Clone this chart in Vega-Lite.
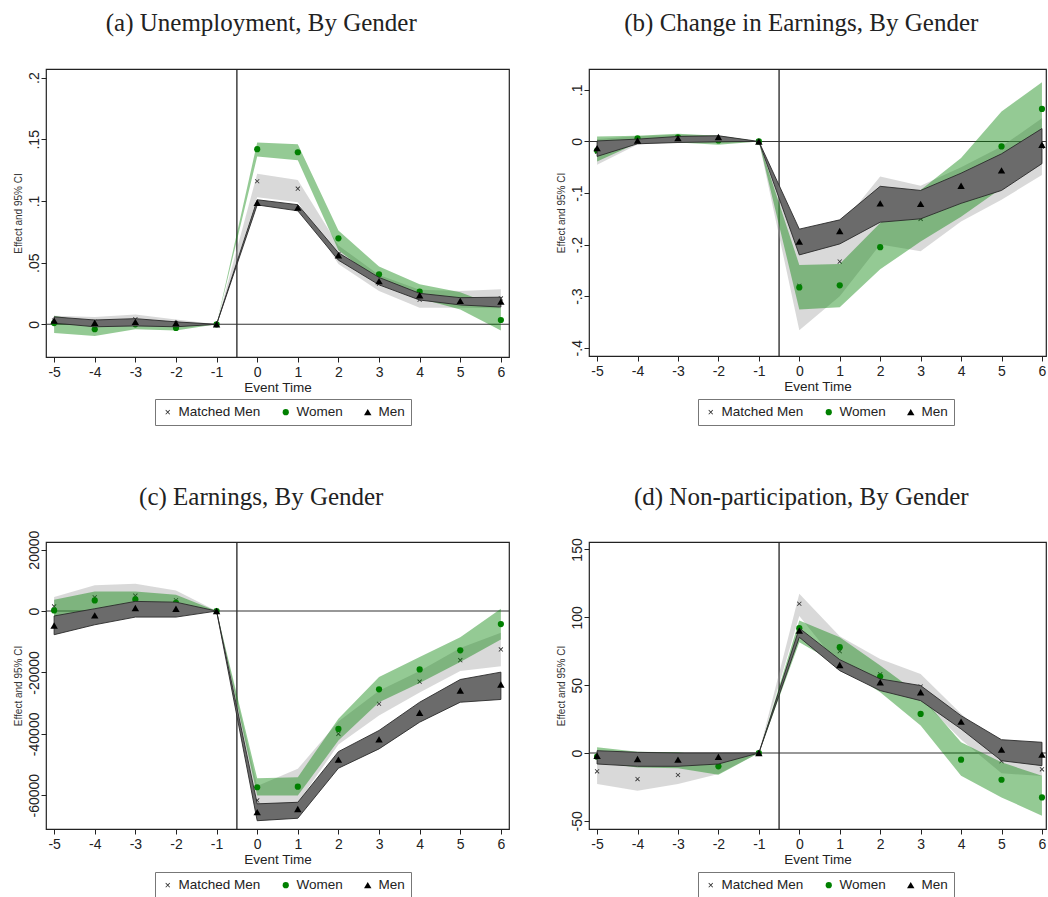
{
  "$schema": "https://vega.github.io/schema/vega-lite/v6.json",
  "padding": {"left": 12, "top": 10, "right": 0, "bottom": 0},
  "background": "white",
  "datasets": {
    "d": [
      {"p":"a","s":"Matched Men","t":-5,"e":0.003,"lo":0.0,"hi":0.007},
      {"p":"a","s":"Matched Men","t":-4,"e":0.002,"lo":-0.001,"hi":0.006},
      {"p":"a","s":"Matched Men","t":-3,"e":0.004,"lo":0.0,"hi":0.008},
      {"p":"a","s":"Matched Men","t":-2,"e":0.001,"lo":-0.002,"hi":0.004},
      {"p":"a","s":"Matched Men","t":-1,"e":0,"lo":0,"hi":0},
      {"p":"a","s":"Matched Men","t":0,"e":0.116,"lo":0.103,"hi":0.122},
      {"p":"a","s":"Matched Men","t":1,"e":0.110,"lo":0.099,"hi":0.117},
      {"p":"a","s":"Matched Men","t":2,"e":0.057,"lo":0.049,"hi":0.064},
      {"p":"a","s":"Matched Men","t":3,"e":0.033,"lo":0.027,"hi":0.040},
      {"p":"a","s":"Matched Men","t":4,"e":0.020,"lo":0.0135,"hi":0.028},
      {"p":"a","s":"Matched Men","t":5,"e":0.020,"lo":0.0135,"hi":0.027},
      {"p":"a","s":"Matched Men","t":6,"e":0.021,"lo":0.013,"hi":0.0284},
      {"p":"a","s":"Women","t":-5,"e":0.001,"lo":-0.007,"hi":0.007},
      {"p":"a","s":"Women","t":-4,"e":-0.004,"lo":-0.0095,"hi":0.001},
      {"p":"a","s":"Women","t":-3,"e":0.0,"lo":-0.004,"hi":0.003},
      {"p":"a","s":"Women","t":-2,"e":-0.003,"lo":-0.005,"hi":-0.001},
      {"p":"a","s":"Women","t":-1,"e":0,"lo":0,"hi":0},
      {"p":"a","s":"Women","t":0,"e":0.142,"lo":0.136,"hi":0.1475},
      {"p":"a","s":"Women","t":1,"e":0.1395,"lo":0.133,"hi":0.146},
      {"p":"a","s":"Women","t":2,"e":0.0697,"lo":0.060,"hi":0.076},
      {"p":"a","s":"Women","t":3,"e":0.0405,"lo":0.035,"hi":0.0468},
      {"p":"a","s":"Women","t":4,"e":0.0265,"lo":0.021,"hi":0.0325},
      {"p":"a","s":"Women","t":5,"e":0.019,"lo":0.012,"hi":0.026},
      {"p":"a","s":"Women","t":6,"e":0.0035,"lo":-0.005,"hi":0.0135},
      {"p":"a","s":"Men","t":-5,"e":0.003,"lo":0.001,"hi":0.006},
      {"p":"a","s":"Men","t":-4,"e":0.0013,"lo":-0.002,"hi":0.0035},
      {"p":"a","s":"Men","t":-3,"e":0.002,"lo":-0.0013,"hi":0.0046},
      {"p":"a","s":"Men","t":-2,"e":0.001,"lo":-0.002,"hi":0.002},
      {"p":"a","s":"Men","t":-1,"e":0,"lo":0,"hi":0},
      {"p":"a","s":"Men","t":0,"e":0.0986,"lo":0.0968,"hi":0.101},
      {"p":"a","s":"Men","t":1,"e":0.0946,"lo":0.092,"hi":0.097},
      {"p":"a","s":"Men","t":2,"e":0.056,"lo":0.052,"hi":0.058},
      {"p":"a","s":"Men","t":3,"e":0.035,"lo":0.032,"hi":0.038},
      {"p":"a","s":"Men","t":4,"e":0.0235,"lo":0.0197,"hi":0.0251},
      {"p":"a","s":"Men","t":5,"e":0.019,"lo":0.0157,"hi":0.0216},
      {"p":"a","s":"Men","t":6,"e":0.0184,"lo":0.014,"hi":0.022},

      {"p":"b","s":"Matched Men","t":-5,"e":-0.02,"lo":-0.045,"hi":0.005},
      {"p":"b","s":"Matched Men","t":-4,"e":0.002,"lo":-0.006,"hi":0.01},
      {"p":"b","s":"Matched Men","t":-3,"e":0.006,"lo":-0.002,"hi":0.013},
      {"p":"b","s":"Matched Men","t":-2,"e":0.005,"lo":-0.003,"hi":0.012},
      {"p":"b","s":"Matched Men","t":-1,"e":0,"lo":0,"hi":0},
      {"p":"b","s":"Matched Men","t":0,"e":-0.28,"lo":-0.366,"hi":-0.2},
      {"p":"b","s":"Matched Men","t":1,"e":-0.233,"lo":-0.30,"hi":-0.165},
      {"p":"b","s":"Matched Men","t":2,"e":-0.134,"lo":-0.2,"hi":-0.068},
      {"p":"b","s":"Matched Men","t":3,"e":-0.15,"lo":-0.213,"hi":-0.086},
      {"p":"b","s":"Matched Men","t":4,"e":-0.1,"lo":-0.155,"hi":-0.05},
      {"p":"b","s":"Matched Men","t":5,"e":-0.06,"lo":-0.113,"hi":-0.01},
      {"p":"b","s":"Matched Men","t":6,"e":-0.01,"lo":-0.065,"hi":0.045},
      {"p":"b","s":"Women","t":-5,"e":-0.0175,"lo":-0.039,"hi":0.0097},
      {"p":"b","s":"Women","t":-4,"e":0.006,"lo":-0.003,"hi":0.011},
      {"p":"b","s":"Women","t":-3,"e":0.008,"lo":-0.002,"hi":0.015},
      {"p":"b","s":"Women","t":-2,"e":0.002,"lo":-0.0065,"hi":0.011},
      {"p":"b","s":"Women","t":-1,"e":0,"lo":0,"hi":0},
      {"p":"b","s":"Women","t":0,"e":-0.283,"lo":-0.3256,"hi":-0.2395},
      {"p":"b","s":"Women","t":1,"e":-0.279,"lo":-0.3217,"hi":-0.2375},
      {"p":"b","s":"Women","t":2,"e":-0.205,"lo":-0.248,"hi":-0.158},
      {"p":"b","s":"Women","t":3,"e":-0.144,"lo":-0.194,"hi":-0.094},
      {"p":"b","s":"Women","t":4,"e":-0.089,"lo":-0.146,"hi":-0.032},
      {"p":"b","s":"Women","t":5,"e":-0.0097,"lo":-0.0906,"hi":0.058},
      {"p":"b","s":"Women","t":6,"e":0.063,"lo":0.011,"hi":0.115},
      {"p":"b","s":"Men","t":-5,"e":-0.013,"lo":-0.029,"hi":0.001},
      {"p":"b","s":"Men","t":-4,"e":0.002,"lo":-0.0045,"hi":0.0045},
      {"p":"b","s":"Men","t":-3,"e":0.0065,"lo":-0.002,"hi":0.0097},
      {"p":"b","s":"Men","t":-2,"e":0.0085,"lo":-0.0006,"hi":0.011},
      {"p":"b","s":"Men","t":-1,"e":0,"lo":0,"hi":0},
      {"p":"b","s":"Men","t":0,"e":-0.194,"lo":-0.22,"hi":-0.17},
      {"p":"b","s":"Men","t":1,"e":-0.1735,"lo":-0.1987,"hi":-0.152},
      {"p":"b","s":"Men","t":2,"e":-0.12,"lo":-0.1566,"hi":-0.087},
      {"p":"b","s":"Men","t":3,"e":-0.121,"lo":-0.15,"hi":-0.095},
      {"p":"b","s":"Men","t":4,"e":-0.086,"lo":-0.12,"hi":-0.0615},
      {"p":"b","s":"Men","t":5,"e":-0.056,"lo":-0.095,"hi":-0.024},
      {"p":"b","s":"Men","t":6,"e":-0.0065,"lo":-0.043,"hi":0.025},

      {"p":"c","s":"Matched Men","t":-5,"e":1500,"lo":-2000,"hi":4600},
      {"p":"c","s":"Matched Men","t":-4,"e":4500,"lo":500,"hi":8400},
      {"p":"c","s":"Matched Men","t":-3,"e":5000,"lo":1500,"hi":8900},
      {"p":"c","s":"Matched Men","t":-2,"e":3500,"lo":0,"hi":6700},
      {"p":"c","s":"Matched Men","t":-1,"e":0,"lo":0,"hi":0},
      {"p":"c","s":"Matched Men","t":0,"e":-61700,"lo":-63000,"hi":-57000},
      {"p":"c","s":"Matched Men","t":1,"e":-57000,"lo":-62500,"hi":-51400},
      {"p":"c","s":"Matched Men","t":2,"e":-40000,"lo":-43500,"hi":-36000},
      {"p":"c","s":"Matched Men","t":3,"e":-30200,"lo":-34000,"hi":-26000},
      {"p":"c","s":"Matched Men","t":4,"e":-23000,"lo":-26500,"hi":-19500},
      {"p":"c","s":"Matched Men","t":5,"e":-16000,"lo":-19500,"hi":-12000},
      {"p":"c","s":"Matched Men","t":6,"e":-12500,"lo":-18000,"hi":-7100},
      {"p":"c","s":"Women","t":-5,"e":200,"lo":-1960,"hi":3700},
      {"p":"c","s":"Women","t":-4,"e":3480,"lo":600,"hi":6400},
      {"p":"c","s":"Women","t":-3,"e":3800,"lo":1000,"hi":6400},
      {"p":"c","s":"Women","t":-2,"e":2700,"lo":400,"hi":5300},
      {"p":"c","s":"Women","t":-1,"e":0,"lo":0,"hi":0},
      {"p":"c","s":"Women","t":0,"e":-57400,"lo":-60100,"hi":-54500},
      {"p":"c","s":"Women","t":1,"e":-57200,"lo":-60100,"hi":-54100},
      {"p":"c","s":"Women","t":2,"e":-38400,"lo":-42200,"hi":-35100},
      {"p":"c","s":"Women","t":3,"e":-25500,"lo":-29700,"hi":-21500},
      {"p":"c","s":"Women","t":4,"e":-19000,"lo":-23400,"hi":-15000},
      {"p":"c","s":"Women","t":5,"e":-12800,"lo":-16600,"hi":-8500},
      {"p":"c","s":"Women","t":6,"e":-4240,"lo":-9240,"hi":760},
      {"p":"c","s":"Men","t":-5,"e":-4700,"lo":-7700,"hi":-1600},
      {"p":"c","s":"Men","t":-4,"e":-1400,"lo":-4460,"hi":760},
      {"p":"c","s":"Men","t":-3,"e":980,"lo":-1960,"hi":3150},
      {"p":"c","s":"Men","t":-2,"e":760,"lo":-1960,"hi":2900},
      {"p":"c","s":"Men","t":-1,"e":0,"lo":0,"hi":0},
      {"p":"c","s":"Men","t":0,"e":-65500,"lo":-68300,"hi":-62800},
      {"p":"c","s":"Men","t":1,"e":-64500,"lo":-67500,"hi":-62300},
      {"p":"c","s":"Men","t":2,"e":-48400,"lo":-51200,"hi":-45800},
      {"p":"c","s":"Men","t":3,"e":-41800,"lo":-44900,"hi":-38900},
      {"p":"c","s":"Men","t":4,"e":-33100,"lo":-36200,"hi":-29700},
      {"p":"c","s":"Men","t":5,"e":-25900,"lo":-29700,"hi":-22300},
      {"p":"c","s":"Men","t":6,"e":-23900,"lo":-28800,"hi":-19900},

      {"p":"d","s":"Matched Men","t":-5,"e":-13.5,"lo":-22.9,"hi":-4},
      {"p":"d","s":"Matched Men","t":-4,"e":-19.2,"lo":-27.8,"hi":-10},
      {"p":"d","s":"Matched Men","t":-3,"e":-16.2,"lo":-22.9,"hi":-9},
      {"p":"d","s":"Matched Men","t":-2,"e":-6,"lo":-15.5,"hi":0},
      {"p":"d","s":"Matched Men","t":-1,"e":0,"lo":0,"hi":0},
      {"p":"d","s":"Matched Men","t":0,"e":110,"lo":101,"hi":117.3},
      {"p":"d","s":"Matched Men","t":1,"e":75,"lo":64,"hi":86},
      {"p":"d","s":"Matched Men","t":2,"e":58,"lo":47,"hi":69.3},
      {"p":"d","s":"Matched Men","t":3,"e":49,"lo":40,"hi":58.3},
      {"p":"d","s":"Matched Men","t":4,"e":20,"lo":10,"hi":29},
      {"p":"d","s":"Matched Men","t":5,"e":-6,"lo":-15,"hi":3},
      {"p":"d","s":"Matched Men","t":6,"e":-12,"lo":-17,"hi":-5},
      {"p":"d","s":"Women","t":-5,"e":-2.7,"lo":-6.9,"hi":4.2},
      {"p":"d","s":"Women","t":-4,"e":-5,"lo":-10.6,"hi":1},
      {"p":"d","s":"Women","t":-3,"e":-6,"lo":-11.3,"hi":0.5},
      {"p":"d","s":"Women","t":-2,"e":-9.8,"lo":-16,"hi":-2.7},
      {"p":"d","s":"Women","t":-1,"e":0,"lo":0,"hi":0},
      {"p":"d","s":"Women","t":0,"e":92,"lo":81.6,"hi":97.6},
      {"p":"d","s":"Women","t":1,"e":78,"lo":64.4,"hi":85.3},
      {"p":"d","s":"Women","t":2,"e":56.3,"lo":44.8,"hi":64.4},
      {"p":"d","s":"Women","t":3,"e":28.8,"lo":20.2,"hi":42.3},
      {"p":"d","s":"Women","t":4,"e":-4.9,"lo":-16.7,"hi":7.9},
      {"p":"d","s":"Women","t":5,"e":-19.7,"lo":-32.7,"hi":-6.9},
      {"p":"d","s":"Women","t":6,"e":-32.7,"lo":-46.2,"hi":-16.7},
      {"p":"d","s":"Men","t":-5,"e":-2,"lo":-8.1,"hi":1.7},
      {"p":"d","s":"Men","t":-4,"e":-4.4,"lo":-9.8,"hi":0.5},
      {"p":"d","s":"Men","t":-3,"e":-4.9,"lo":-9.8,"hi":0},
      {"p":"d","s":"Men","t":-2,"e":-2.7,"lo":-8.1,"hi":0},
      {"p":"d","s":"Men","t":-1,"e":0,"lo":0,"hi":0},
      {"p":"d","s":"Men","t":0,"e":90.2,"lo":85.3,"hi":92},
      {"p":"d","s":"Men","t":1,"e":64.9,"lo":60.7,"hi":68.8},
      {"p":"d","s":"Men","t":2,"e":52.1,"lo":46,"hi":54.6},
      {"p":"d","s":"Men","t":3,"e":44.8,"lo":38.6,"hi":49.7},
      {"p":"d","s":"Men","t":4,"e":23.1,"lo":17.7,"hi":27.5},
      {"p":"d","s":"Men","t":5,"e":2.5,"lo":-5.7,"hi":9.8},
      {"p":"d","s":"Men","t":6,"e":-1.2,"lo":-9.3,"hi":7.9}
    ]
  },
  "data": {"name": "d"},
  "columns": 2,
  "spacing": {"row": 57, "column": 44},
  "resolve": {
    "scale": {"x": "independent", "y": "independent"},
    "legend": {"color": "independent", "shape": "independent", "size": "independent"}
  },
  "concat": [
    {
      "title": {"text": "(a) Unemployment, By Gender", "offset": 32},
      "width": 463, "height": 288,
      "transform": [{"filter": "datum.p == 'a'"}],
      "layer": [
        {"transform": [{"aggregate": [{"op": "count", "as": "n"}]}], "mark": {"type": "rule", "color": "#222", "strokeWidth": 1.3}, "encoding": {"x": {"datum": -0.5, "type": "quantitative"}}},
        {"transform": [{"aggregate": [{"op": "count", "as": "n"}]}], "mark": {"type": "rule", "color": "#333", "strokeWidth": 1.1}, "encoding": {"y": {"datum": 0, "type": "quantitative"}}},
        {"transform": [{"filter": "datum.s == 'Matched Men'"}], "mark": {"type": "area", "fill": "#a0a0a0", "fillOpacity": 0.4},
         "encoding": {"x": {"field": "t", "type": "quantitative", "scale": {"domain": [-5.2, 6.2], "nice": false, "zero": false}, "axis": {"values": [-5,-4,-3,-2,-1,0,1,2,3,4,5,6], "labelExpr": "datum.value + ''"}, "title": "Event Time"},
                      "y": {"field": "lo", "type": "quantitative", "scale": {"domain": [-0.0265, 0.207], "nice": false, "zero": false}, "axis": {"values": [0, 0.05, 0.1, 0.15, 0.2], "labelExpr": "replace(datum.value + '', regexp('^(-?)0[.]'), '$1.')"}, "title": "Effect and 95% CI"},
                      "y2": {"field": "hi"}}},
        {"transform": [{"filter": "datum.s == 'Matched Men'"}], "mark": {"type": "point", "filled": true, "opacity": 1, "strokeWidth": 0},
         "encoding": {"x": {"field": "t", "type": "quantitative", "scale": {"domain": [-5.2, 6.2], "nice": false, "zero": false}, "axis": {"values": [-5,-4,-3,-2,-1,0,1,2,3,4,5,6], "labelExpr": "datum.value + ''"}, "title": "Event Time"},
                      "y": {"field": "e", "type": "quantitative", "scale": {"domain": [-0.0265, 0.207], "nice": false, "zero": false}, "axis": {"values": [0, 0.05, 0.1, 0.15, 0.2], "labelExpr": "replace(datum.value + '', regexp('^(-?)0[.]'), '$1.')"}, "title": "Effect and 95% CI"},
                      "color": {"field": "s", "type": "nominal", "title": null, "scale": {"domain": ["Matched Men", "Women", "Men"], "range": ["#333333", "#008000", "#000000"]}},
                      "shape": {"field": "s", "type": "nominal", "title": null, "scale": {"domain": ["Matched Men", "Women", "Men"], "range": ["M-1,-0.75L-0.75,-1L0,-0.25L0.75,-1L1,-0.75L0.25,0L1,0.75L0.75,1L0,0.25L-0.75,1L-1,0.75L-0.25,0Z", "circle", "triangle-up"]}},
                      "size": {"field": "s", "type": "nominal", "title": null, "scale": {"domain": ["Matched Men", "Women", "Men"], "range": [22, 55, 65]}}}},
        {"transform": [{"filter": "datum.s == 'Women'"}], "mark": {"type": "area", "fill": "#008000", "fillOpacity": 0.42},
         "encoding": {"x": {"field": "t", "type": "quantitative", "scale": {"domain": [-5.2, 6.2], "nice": false, "zero": false}, "axis": {"values": [-5,-4,-3,-2,-1,0,1,2,3,4,5,6], "labelExpr": "datum.value + ''"}, "title": "Event Time"},
                      "y": {"field": "lo", "type": "quantitative", "scale": {"domain": [-0.0265, 0.207], "nice": false, "zero": false}, "axis": {"values": [0, 0.05, 0.1, 0.15, 0.2], "labelExpr": "replace(datum.value + '', regexp('^(-?)0[.]'), '$1.')"}, "title": "Effect and 95% CI"},
                      "y2": {"field": "hi"}}},
        {"transform": [{"filter": "datum.s == 'Women'"}], "mark": {"type": "point", "filled": true, "opacity": 1, "strokeWidth": 0},
         "encoding": {"x": {"field": "t", "type": "quantitative", "scale": {"domain": [-5.2, 6.2], "nice": false, "zero": false}, "axis": {"values": [-5,-4,-3,-2,-1,0,1,2,3,4,5,6], "labelExpr": "datum.value + ''"}, "title": "Event Time"},
                      "y": {"field": "e", "type": "quantitative", "scale": {"domain": [-0.0265, 0.207], "nice": false, "zero": false}, "axis": {"values": [0, 0.05, 0.1, 0.15, 0.2], "labelExpr": "replace(datum.value + '', regexp('^(-?)0[.]'), '$1.')"}, "title": "Effect and 95% CI"},
                      "color": {"field": "s", "type": "nominal", "title": null, "scale": {"domain": ["Matched Men", "Women", "Men"], "range": ["#333333", "#008000", "#000000"]}},
                      "shape": {"field": "s", "type": "nominal", "title": null, "scale": {"domain": ["Matched Men", "Women", "Men"], "range": ["M-1,-0.75L-0.75,-1L0,-0.25L0.75,-1L1,-0.75L0.25,0L1,0.75L0.75,1L0,0.25L-0.75,1L-1,0.75L-0.25,0Z", "circle", "triangle-up"]}},
                      "size": {"field": "s", "type": "nominal", "title": null, "scale": {"domain": ["Matched Men", "Women", "Men"], "range": [22, 55, 65]}}}},
        {"transform": [{"filter": "datum.s == 'Men'"}], "mark": {"type": "area", "fill": "#6b6b6b", "fillOpacity": 1, "stroke": "#2a2a2a", "strokeWidth": 0.9},
         "encoding": {"x": {"field": "t", "type": "quantitative", "scale": {"domain": [-5.2, 6.2], "nice": false, "zero": false}, "axis": {"values": [-5,-4,-3,-2,-1,0,1,2,3,4,5,6], "labelExpr": "datum.value + ''"}, "title": "Event Time"},
                      "y": {"field": "lo", "type": "quantitative", "scale": {"domain": [-0.0265, 0.207], "nice": false, "zero": false}, "axis": {"values": [0, 0.05, 0.1, 0.15, 0.2], "labelExpr": "replace(datum.value + '', regexp('^(-?)0[.]'), '$1.')"}, "title": "Effect and 95% CI"},
                      "y2": {"field": "hi"}}},
        {"transform": [{"filter": "datum.s == 'Men'"}], "mark": {"type": "point", "filled": true, "opacity": 1, "strokeWidth": 0},
         "encoding": {"x": {"field": "t", "type": "quantitative", "scale": {"domain": [-5.2, 6.2], "nice": false, "zero": false}, "axis": {"values": [-5,-4,-3,-2,-1,0,1,2,3,4,5,6], "labelExpr": "datum.value + ''"}, "title": "Event Time"},
                      "y": {"field": "e", "type": "quantitative", "scale": {"domain": [-0.0265, 0.207], "nice": false, "zero": false}, "axis": {"values": [0, 0.05, 0.1, 0.15, 0.2], "labelExpr": "replace(datum.value + '', regexp('^(-?)0[.]'), '$1.')"}, "title": "Effect and 95% CI"},
                      "color": {"field": "s", "type": "nominal", "title": null, "scale": {"domain": ["Matched Men", "Women", "Men"], "range": ["#333333", "#008000", "#000000"]}},
                      "shape": {"field": "s", "type": "nominal", "title": null, "scale": {"domain": ["Matched Men", "Women", "Men"], "range": ["M-1,-0.75L-0.75,-1L0,-0.25L0.75,-1L1,-0.75L0.25,0L1,0.75L0.75,1L0,0.25L-0.75,1L-1,0.75L-0.25,0Z", "circle", "triangle-up"]}},
                      "size": {"field": "s", "type": "nominal", "title": null, "scale": {"domain": ["Matched Men", "Women", "Men"], "range": [22, 55, 65]}}}}
      ]
    },
    {
      "title": {"text": "(b) Change in Earnings, By Gender", "offset": 32},
      "width": 457, "height": 287,
      "transform": [{"filter": "datum.p == 'b'"}],
      "layer": [
        {"transform": [{"aggregate": [{"op": "count", "as": "n"}]}], "mark": {"type": "rule", "color": "#222", "strokeWidth": 1.3}, "encoding": {"x": {"datum": -0.5, "type": "quantitative"}}},
        {"transform": [{"aggregate": [{"op": "count", "as": "n"}]}], "mark": {"type": "rule", "color": "#333", "strokeWidth": 1.1}, "encoding": {"y": {"datum": 0, "type": "quantitative"}}},
        {"transform": [{"filter": "datum.s == 'Matched Men'"}], "mark": {"type": "area", "fill": "#a0a0a0", "fillOpacity": 0.4},
         "encoding": {"x": {"field": "t", "type": "quantitative", "scale": {"domain": [-5.2, 6.1], "nice": false, "zero": false}, "axis": {"values": [-5,-4,-3,-2,-1,0,1,2,3,4,5,6], "labelExpr": "datum.value + ''"}, "title": "Event Time"},
                      "y": {"field": "lo", "type": "quantitative", "scale": {"domain": [-0.416, 0.1405], "nice": false, "zero": false}, "axis": {"values": [-0.4, -0.3, -0.2, -0.1, 0, 0.1], "labelExpr": "replace(datum.value + '', regexp('^(-?)0[.]'), '$1.')"}, "title": "Effect and 95% CI"},
                      "y2": {"field": "hi"}}},
        {"transform": [{"filter": "datum.s == 'Matched Men'"}], "mark": {"type": "point", "filled": true, "opacity": 1, "strokeWidth": 0},
         "encoding": {"x": {"field": "t", "type": "quantitative", "scale": {"domain": [-5.2, 6.1], "nice": false, "zero": false}, "axis": {"values": [-5,-4,-3,-2,-1,0,1,2,3,4,5,6], "labelExpr": "datum.value + ''"}, "title": "Event Time"},
                      "y": {"field": "e", "type": "quantitative", "scale": {"domain": [-0.416, 0.1405], "nice": false, "zero": false}, "axis": {"values": [-0.4, -0.3, -0.2, -0.1, 0, 0.1], "labelExpr": "replace(datum.value + '', regexp('^(-?)0[.]'), '$1.')"}, "title": "Effect and 95% CI"},
                      "color": {"field": "s", "type": "nominal", "title": null, "scale": {"domain": ["Matched Men", "Women", "Men"], "range": ["#333333", "#008000", "#000000"]}},
                      "shape": {"field": "s", "type": "nominal", "title": null, "scale": {"domain": ["Matched Men", "Women", "Men"], "range": ["M-1,-0.75L-0.75,-1L0,-0.25L0.75,-1L1,-0.75L0.25,0L1,0.75L0.75,1L0,0.25L-0.75,1L-1,0.75L-0.25,0Z", "circle", "triangle-up"]}},
                      "size": {"field": "s", "type": "nominal", "title": null, "scale": {"domain": ["Matched Men", "Women", "Men"], "range": [22, 55, 65]}}}},
        {"transform": [{"filter": "datum.s == 'Women'"}], "mark": {"type": "area", "fill": "#008000", "fillOpacity": 0.42},
         "encoding": {"x": {"field": "t", "type": "quantitative", "scale": {"domain": [-5.2, 6.1], "nice": false, "zero": false}, "axis": {"values": [-5,-4,-3,-2,-1,0,1,2,3,4,5,6], "labelExpr": "datum.value + ''"}, "title": "Event Time"},
                      "y": {"field": "lo", "type": "quantitative", "scale": {"domain": [-0.416, 0.1405], "nice": false, "zero": false}, "axis": {"values": [-0.4, -0.3, -0.2, -0.1, 0, 0.1], "labelExpr": "replace(datum.value + '', regexp('^(-?)0[.]'), '$1.')"}, "title": "Effect and 95% CI"},
                      "y2": {"field": "hi"}}},
        {"transform": [{"filter": "datum.s == 'Women'"}], "mark": {"type": "point", "filled": true, "opacity": 1, "strokeWidth": 0},
         "encoding": {"x": {"field": "t", "type": "quantitative", "scale": {"domain": [-5.2, 6.1], "nice": false, "zero": false}, "axis": {"values": [-5,-4,-3,-2,-1,0,1,2,3,4,5,6], "labelExpr": "datum.value + ''"}, "title": "Event Time"},
                      "y": {"field": "e", "type": "quantitative", "scale": {"domain": [-0.416, 0.1405], "nice": false, "zero": false}, "axis": {"values": [-0.4, -0.3, -0.2, -0.1, 0, 0.1], "labelExpr": "replace(datum.value + '', regexp('^(-?)0[.]'), '$1.')"}, "title": "Effect and 95% CI"},
                      "color": {"field": "s", "type": "nominal", "title": null, "scale": {"domain": ["Matched Men", "Women", "Men"], "range": ["#333333", "#008000", "#000000"]}},
                      "shape": {"field": "s", "type": "nominal", "title": null, "scale": {"domain": ["Matched Men", "Women", "Men"], "range": ["M-1,-0.75L-0.75,-1L0,-0.25L0.75,-1L1,-0.75L0.25,0L1,0.75L0.75,1L0,0.25L-0.75,1L-1,0.75L-0.25,0Z", "circle", "triangle-up"]}},
                      "size": {"field": "s", "type": "nominal", "title": null, "scale": {"domain": ["Matched Men", "Women", "Men"], "range": [22, 55, 65]}}}},
        {"transform": [{"filter": "datum.s == 'Men'"}], "mark": {"type": "area", "fill": "#6b6b6b", "fillOpacity": 1, "stroke": "#2a2a2a", "strokeWidth": 0.9},
         "encoding": {"x": {"field": "t", "type": "quantitative", "scale": {"domain": [-5.2, 6.1], "nice": false, "zero": false}, "axis": {"values": [-5,-4,-3,-2,-1,0,1,2,3,4,5,6], "labelExpr": "datum.value + ''"}, "title": "Event Time"},
                      "y": {"field": "lo", "type": "quantitative", "scale": {"domain": [-0.416, 0.1405], "nice": false, "zero": false}, "axis": {"values": [-0.4, -0.3, -0.2, -0.1, 0, 0.1], "labelExpr": "replace(datum.value + '', regexp('^(-?)0[.]'), '$1.')"}, "title": "Effect and 95% CI"},
                      "y2": {"field": "hi"}}},
        {"transform": [{"filter": "datum.s == 'Men'"}], "mark": {"type": "point", "filled": true, "opacity": 1, "strokeWidth": 0},
         "encoding": {"x": {"field": "t", "type": "quantitative", "scale": {"domain": [-5.2, 6.1], "nice": false, "zero": false}, "axis": {"values": [-5,-4,-3,-2,-1,0,1,2,3,4,5,6], "labelExpr": "datum.value + ''"}, "title": "Event Time"},
                      "y": {"field": "e", "type": "quantitative", "scale": {"domain": [-0.416, 0.1405], "nice": false, "zero": false}, "axis": {"values": [-0.4, -0.3, -0.2, -0.1, 0, 0.1], "labelExpr": "replace(datum.value + '', regexp('^(-?)0[.]'), '$1.')"}, "title": "Effect and 95% CI"},
                      "color": {"field": "s", "type": "nominal", "title": null, "scale": {"domain": ["Matched Men", "Women", "Men"], "range": ["#333333", "#008000", "#000000"]}},
                      "shape": {"field": "s", "type": "nominal", "title": null, "scale": {"domain": ["Matched Men", "Women", "Men"], "range": ["M-1,-0.75L-0.75,-1L0,-0.25L0.75,-1L1,-0.75L0.25,0L1,0.75L0.75,1L0,0.25L-0.75,1L-1,0.75L-0.25,0Z", "circle", "triangle-up"]}},
                      "size": {"field": "s", "type": "nominal", "title": null, "scale": {"domain": ["Matched Men", "Women", "Men"], "range": [22, 55, 65]}}}}
      ]
    },
    {
      "title": {"text": "(c) Earnings, By Gender", "offset": 20},
      "width": 463, "height": 287,
      "transform": [{"filter": "datum.p == 'c'"}],
      "layer": [
        {"transform": [{"aggregate": [{"op": "count", "as": "n"}]}], "mark": {"type": "rule", "color": "#222", "strokeWidth": 1.3}, "encoding": {"x": {"datum": -0.5, "type": "quantitative"}}},
        {"transform": [{"aggregate": [{"op": "count", "as": "n"}]}], "mark": {"type": "rule", "color": "#333", "strokeWidth": 1.1}, "encoding": {"y": {"datum": 0, "type": "quantitative"}}},
        {"transform": [{"filter": "datum.s == 'Matched Men'"}], "mark": {"type": "area", "fill": "#a0a0a0", "fillOpacity": 0.4},
         "encoding": {"x": {"field": "t", "type": "quantitative", "scale": {"domain": [-5.2, 6.2], "nice": false, "zero": false}, "axis": {"values": [-5,-4,-3,-2,-1,0,1,2,3,4,5,6], "labelExpr": "datum.value + ''"}, "title": "Event Time"},
                      "y": {"field": "lo", "type": "quantitative", "scale": {"domain": [-71000, 22500], "nice": false, "zero": false}, "axis": {"values": [-60000, -40000, -20000, 0, 20000], "labelExpr": "datum.value + ''"}, "title": "Effect and 95% CI"},
                      "y2": {"field": "hi"}}},
        {"transform": [{"filter": "datum.s == 'Matched Men'"}], "mark": {"type": "point", "filled": true, "opacity": 1, "strokeWidth": 0},
         "encoding": {"x": {"field": "t", "type": "quantitative", "scale": {"domain": [-5.2, 6.2], "nice": false, "zero": false}, "axis": {"values": [-5,-4,-3,-2,-1,0,1,2,3,4,5,6], "labelExpr": "datum.value + ''"}, "title": "Event Time"},
                      "y": {"field": "e", "type": "quantitative", "scale": {"domain": [-71000, 22500], "nice": false, "zero": false}, "axis": {"values": [-60000, -40000, -20000, 0, 20000], "labelExpr": "datum.value + ''"}, "title": "Effect and 95% CI"},
                      "color": {"field": "s", "type": "nominal", "title": null, "scale": {"domain": ["Matched Men", "Women", "Men"], "range": ["#333333", "#008000", "#000000"]}},
                      "shape": {"field": "s", "type": "nominal", "title": null, "scale": {"domain": ["Matched Men", "Women", "Men"], "range": ["M-1,-0.75L-0.75,-1L0,-0.25L0.75,-1L1,-0.75L0.25,0L1,0.75L0.75,1L0,0.25L-0.75,1L-1,0.75L-0.25,0Z", "circle", "triangle-up"]}},
                      "size": {"field": "s", "type": "nominal", "title": null, "scale": {"domain": ["Matched Men", "Women", "Men"], "range": [22, 55, 65]}}}},
        {"transform": [{"filter": "datum.s == 'Women'"}], "mark": {"type": "area", "fill": "#008000", "fillOpacity": 0.42},
         "encoding": {"x": {"field": "t", "type": "quantitative", "scale": {"domain": [-5.2, 6.2], "nice": false, "zero": false}, "axis": {"values": [-5,-4,-3,-2,-1,0,1,2,3,4,5,6], "labelExpr": "datum.value + ''"}, "title": "Event Time"},
                      "y": {"field": "lo", "type": "quantitative", "scale": {"domain": [-71000, 22500], "nice": false, "zero": false}, "axis": {"values": [-60000, -40000, -20000, 0, 20000], "labelExpr": "datum.value + ''"}, "title": "Effect and 95% CI"},
                      "y2": {"field": "hi"}}},
        {"transform": [{"filter": "datum.s == 'Women'"}], "mark": {"type": "point", "filled": true, "opacity": 1, "strokeWidth": 0},
         "encoding": {"x": {"field": "t", "type": "quantitative", "scale": {"domain": [-5.2, 6.2], "nice": false, "zero": false}, "axis": {"values": [-5,-4,-3,-2,-1,0,1,2,3,4,5,6], "labelExpr": "datum.value + ''"}, "title": "Event Time"},
                      "y": {"field": "e", "type": "quantitative", "scale": {"domain": [-71000, 22500], "nice": false, "zero": false}, "axis": {"values": [-60000, -40000, -20000, 0, 20000], "labelExpr": "datum.value + ''"}, "title": "Effect and 95% CI"},
                      "color": {"field": "s", "type": "nominal", "title": null, "scale": {"domain": ["Matched Men", "Women", "Men"], "range": ["#333333", "#008000", "#000000"]}},
                      "shape": {"field": "s", "type": "nominal", "title": null, "scale": {"domain": ["Matched Men", "Women", "Men"], "range": ["M-1,-0.75L-0.75,-1L0,-0.25L0.75,-1L1,-0.75L0.25,0L1,0.75L0.75,1L0,0.25L-0.75,1L-1,0.75L-0.25,0Z", "circle", "triangle-up"]}},
                      "size": {"field": "s", "type": "nominal", "title": null, "scale": {"domain": ["Matched Men", "Women", "Men"], "range": [22, 55, 65]}}}},
        {"transform": [{"filter": "datum.s == 'Men'"}], "mark": {"type": "area", "fill": "#6b6b6b", "fillOpacity": 1, "stroke": "#2a2a2a", "strokeWidth": 0.9},
         "encoding": {"x": {"field": "t", "type": "quantitative", "scale": {"domain": [-5.2, 6.2], "nice": false, "zero": false}, "axis": {"values": [-5,-4,-3,-2,-1,0,1,2,3,4,5,6], "labelExpr": "datum.value + ''"}, "title": "Event Time"},
                      "y": {"field": "lo", "type": "quantitative", "scale": {"domain": [-71000, 22500], "nice": false, "zero": false}, "axis": {"values": [-60000, -40000, -20000, 0, 20000], "labelExpr": "datum.value + ''"}, "title": "Effect and 95% CI"},
                      "y2": {"field": "hi"}}},
        {"transform": [{"filter": "datum.s == 'Men'"}], "mark": {"type": "point", "filled": true, "opacity": 1, "strokeWidth": 0},
         "encoding": {"x": {"field": "t", "type": "quantitative", "scale": {"domain": [-5.2, 6.2], "nice": false, "zero": false}, "axis": {"values": [-5,-4,-3,-2,-1,0,1,2,3,4,5,6], "labelExpr": "datum.value + ''"}, "title": "Event Time"},
                      "y": {"field": "e", "type": "quantitative", "scale": {"domain": [-71000, 22500], "nice": false, "zero": false}, "axis": {"values": [-60000, -40000, -20000, 0, 20000], "labelExpr": "datum.value + ''"}, "title": "Effect and 95% CI"},
                      "color": {"field": "s", "type": "nominal", "title": null, "scale": {"domain": ["Matched Men", "Women", "Men"], "range": ["#333333", "#008000", "#000000"]}},
                      "shape": {"field": "s", "type": "nominal", "title": null, "scale": {"domain": ["Matched Men", "Women", "Men"], "range": ["M-1,-0.75L-0.75,-1L0,-0.25L0.75,-1L1,-0.75L0.25,0L1,0.75L0.75,1L0,0.25L-0.75,1L-1,0.75L-0.25,0Z", "circle", "triangle-up"]}},
                      "size": {"field": "s", "type": "nominal", "title": null, "scale": {"domain": ["Matched Men", "Women", "Men"], "range": [22, 55, 65]}}}}
      ]
    },
    {
      "title": {"text": "(d) Non-participation, By Gender", "offset": 28},
      "width": 457, "height": 287,
      "transform": [{"filter": "datum.p == 'd'"}],
      "layer": [
        {"transform": [{"aggregate": [{"op": "count", "as": "n"}]}], "mark": {"type": "rule", "color": "#222", "strokeWidth": 1.3}, "encoding": {"x": {"datum": -0.5, "type": "quantitative"}}},
        {"transform": [{"aggregate": [{"op": "count", "as": "n"}]}], "mark": {"type": "rule", "color": "#333", "strokeWidth": 1.1}, "encoding": {"y": {"datum": 0, "type": "quantitative"}}},
        {"transform": [{"filter": "datum.s == 'Matched Men'"}], "mark": {"type": "area", "fill": "#a0a0a0", "fillOpacity": 0.4},
         "encoding": {"x": {"field": "t", "type": "quantitative", "scale": {"domain": [-5.2, 6.1], "nice": false, "zero": false}, "axis": {"values": [-5,-4,-3,-2,-1,0,1,2,3,4,5,6], "labelExpr": "datum.value + ''"}, "title": "Event Time"},
                      "y": {"field": "lo", "type": "quantitative", "scale": {"domain": [-56, 155.5], "nice": false, "zero": false}, "axis": {"values": [-50, 0, 50, 100, 150], "labelExpr": "datum.value + ''"}, "title": "Effect and 95% CI"},
                      "y2": {"field": "hi"}}},
        {"transform": [{"filter": "datum.s == 'Matched Men'"}], "mark": {"type": "point", "filled": true, "opacity": 1, "strokeWidth": 0},
         "encoding": {"x": {"field": "t", "type": "quantitative", "scale": {"domain": [-5.2, 6.1], "nice": false, "zero": false}, "axis": {"values": [-5,-4,-3,-2,-1,0,1,2,3,4,5,6], "labelExpr": "datum.value + ''"}, "title": "Event Time"},
                      "y": {"field": "e", "type": "quantitative", "scale": {"domain": [-56, 155.5], "nice": false, "zero": false}, "axis": {"values": [-50, 0, 50, 100, 150], "labelExpr": "datum.value + ''"}, "title": "Effect and 95% CI"},
                      "color": {"field": "s", "type": "nominal", "title": null, "scale": {"domain": ["Matched Men", "Women", "Men"], "range": ["#333333", "#008000", "#000000"]}},
                      "shape": {"field": "s", "type": "nominal", "title": null, "scale": {"domain": ["Matched Men", "Women", "Men"], "range": ["M-1,-0.75L-0.75,-1L0,-0.25L0.75,-1L1,-0.75L0.25,0L1,0.75L0.75,1L0,0.25L-0.75,1L-1,0.75L-0.25,0Z", "circle", "triangle-up"]}},
                      "size": {"field": "s", "type": "nominal", "title": null, "scale": {"domain": ["Matched Men", "Women", "Men"], "range": [22, 55, 65]}}}},
        {"transform": [{"filter": "datum.s == 'Women'"}], "mark": {"type": "area", "fill": "#008000", "fillOpacity": 0.42},
         "encoding": {"x": {"field": "t", "type": "quantitative", "scale": {"domain": [-5.2, 6.1], "nice": false, "zero": false}, "axis": {"values": [-5,-4,-3,-2,-1,0,1,2,3,4,5,6], "labelExpr": "datum.value + ''"}, "title": "Event Time"},
                      "y": {"field": "lo", "type": "quantitative", "scale": {"domain": [-56, 155.5], "nice": false, "zero": false}, "axis": {"values": [-50, 0, 50, 100, 150], "labelExpr": "datum.value + ''"}, "title": "Effect and 95% CI"},
                      "y2": {"field": "hi"}}},
        {"transform": [{"filter": "datum.s == 'Women'"}], "mark": {"type": "point", "filled": true, "opacity": 1, "strokeWidth": 0},
         "encoding": {"x": {"field": "t", "type": "quantitative", "scale": {"domain": [-5.2, 6.1], "nice": false, "zero": false}, "axis": {"values": [-5,-4,-3,-2,-1,0,1,2,3,4,5,6], "labelExpr": "datum.value + ''"}, "title": "Event Time"},
                      "y": {"field": "e", "type": "quantitative", "scale": {"domain": [-56, 155.5], "nice": false, "zero": false}, "axis": {"values": [-50, 0, 50, 100, 150], "labelExpr": "datum.value + ''"}, "title": "Effect and 95% CI"},
                      "color": {"field": "s", "type": "nominal", "title": null, "scale": {"domain": ["Matched Men", "Women", "Men"], "range": ["#333333", "#008000", "#000000"]}},
                      "shape": {"field": "s", "type": "nominal", "title": null, "scale": {"domain": ["Matched Men", "Women", "Men"], "range": ["M-1,-0.75L-0.75,-1L0,-0.25L0.75,-1L1,-0.75L0.25,0L1,0.75L0.75,1L0,0.25L-0.75,1L-1,0.75L-0.25,0Z", "circle", "triangle-up"]}},
                      "size": {"field": "s", "type": "nominal", "title": null, "scale": {"domain": ["Matched Men", "Women", "Men"], "range": [22, 55, 65]}}}},
        {"transform": [{"filter": "datum.s == 'Men'"}], "mark": {"type": "area", "fill": "#6b6b6b", "fillOpacity": 1, "stroke": "#2a2a2a", "strokeWidth": 0.9},
         "encoding": {"x": {"field": "t", "type": "quantitative", "scale": {"domain": [-5.2, 6.1], "nice": false, "zero": false}, "axis": {"values": [-5,-4,-3,-2,-1,0,1,2,3,4,5,6], "labelExpr": "datum.value + ''"}, "title": "Event Time"},
                      "y": {"field": "lo", "type": "quantitative", "scale": {"domain": [-56, 155.5], "nice": false, "zero": false}, "axis": {"values": [-50, 0, 50, 100, 150], "labelExpr": "datum.value + ''"}, "title": "Effect and 95% CI"},
                      "y2": {"field": "hi"}}},
        {"transform": [{"filter": "datum.s == 'Men'"}], "mark": {"type": "point", "filled": true, "opacity": 1, "strokeWidth": 0},
         "encoding": {"x": {"field": "t", "type": "quantitative", "scale": {"domain": [-5.2, 6.1], "nice": false, "zero": false}, "axis": {"values": [-5,-4,-3,-2,-1,0,1,2,3,4,5,6], "labelExpr": "datum.value + ''"}, "title": "Event Time"},
                      "y": {"field": "e", "type": "quantitative", "scale": {"domain": [-56, 155.5], "nice": false, "zero": false}, "axis": {"values": [-50, 0, 50, 100, 150], "labelExpr": "datum.value + ''"}, "title": "Effect and 95% CI"},
                      "color": {"field": "s", "type": "nominal", "title": null, "scale": {"domain": ["Matched Men", "Women", "Men"], "range": ["#333333", "#008000", "#000000"]}},
                      "shape": {"field": "s", "type": "nominal", "title": null, "scale": {"domain": ["Matched Men", "Women", "Men"], "range": ["M-1,-0.75L-0.75,-1L0,-0.25L0.75,-1L1,-0.75L0.25,0L1,0.75L0.75,1L0,0.25L-0.75,1L-1,0.75L-0.25,0Z", "circle", "triangle-up"]}},
                      "size": {"field": "s", "type": "nominal", "title": null, "scale": {"domain": ["Matched Men", "Women", "Men"], "range": [22, 55, 65]}}}}
      ]
    }
  ],
  "config": {
    "font": "Liberation Sans",
    "view": {"stroke": "#222", "strokeWidth": 1.2},
    "axis": {"grid": false, "domain": false, "tickColor": "#222", "tickSize": 5, "tickWidth": 1,
             "labelFont": "Liberation Sans", "labelFontSize": 14, "labelColor": "#222",
             "titleFont": "Liberation Sans", "titleFontWeight": "normal", "titleColor": "#222"},
    "axisX": {"labelPadding": 3, "titleFontSize": 13.5, "titlePadding": 1, "labelAngle": 0},
    "axisY": {"labelAngle": -90, "labelAlign": "center", "labelBaseline": "bottom", "labelPadding": 0, "titleFontSize": 10, "titlePadding": 4, "titleColor": "#333"},
    "legend": {"orient": "none", "legendX": 109, "legendY": 330, "direction": "horizontal",
               "strokeColor": "#777", "padding": 6, "fillColor": "#ffffff",
               "labelFont": "Liberation Sans", "labelFontSize": 13.5, "labelColor": "#222",
               "columnPadding": 18, "labelOffset": 4, "symbolStrokeWidth": 0},
    "title": {"font": "Liberation Serif", "fontSize": 25, "fontWeight": "normal", "color": "#222",
              "anchor": "middle", "frame": "bounds"}
  }
}
